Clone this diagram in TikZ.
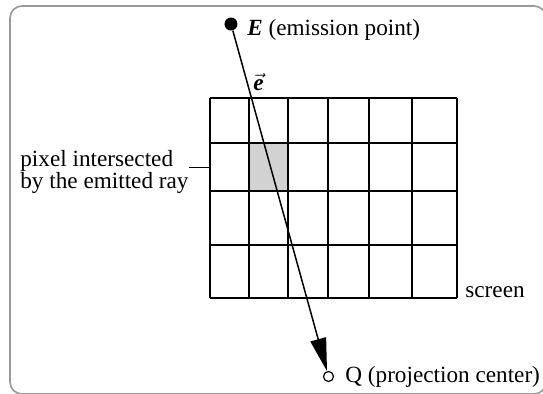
\documentclass[tikz,border=0pt]{standalone}
\usepackage{amsmath}
\usepackage{fontspec}
\setmainfont{Liberation Serif}
\usetikzlibrary{arrows.meta,positioning,calc}

\begin{document}
\begin{tikzpicture}[x=0.5pt,y=-0.5pt,font=\fontsize{11.6}{11}\selectfont]
    \useasboundingbox (0,0) rectangle (543,393);
    % Frame
    \draw[gray!80,line width=0.8pt,rounded corners=6pt] (10,6) rectangle (546,394);

    % Screen pixels
    \fill[gray!35] (249,143) rectangle (288,191);
    \foreach \x in {210,249,288,328,369,412,457}
        \draw[line width=0.75pt] (\x,98) -- (\x,298);
    \foreach \y in {98,143,191,245,298}
        \draw[line width=0.75pt] (210,\y) -- (457,\y);
    \node[anchor=base west,inner sep=0pt] (scr) at (465,297) {screen};

    % Emission point and projection center
    \node[circle,fill,inner sep=0pt,minimum size=6.5pt] (emit) at (231,24) {};
    \node[anchor=base west,inner sep=0pt] (emitlbl) at (247,35) {\textbf{\textit{E}} (emission point)};
    \node[circle,draw,fill=white,line width=0.6pt,inner sep=0pt,minimum size=5pt] (proj) at (328.5,376.5) {};
    \node[anchor=base west,inner sep=0pt] (projlbl) at (345,382) {Q (projection center)};

    % Emitted ray
    \draw[-{Triangle[length=16.5pt,width=8pt]},line width=0.75pt] (emit) -- (proj);
    \node[inner sep=0pt] (evec) at (258.5,82) {$\vec{\textbf{\textit{e}}}$};

    % Intersected pixel
    \node[anchor=north west,align=left,inner sep=0pt] (pixlbl) at (20,149.5) {pixel intersected\\by the emitted ray};
    \coordinate (lead) at (210,167);
    \draw[line width=0.5pt] (lead -| pixlbl.east) -- (lead);
\end{tikzpicture}
\end{document}
